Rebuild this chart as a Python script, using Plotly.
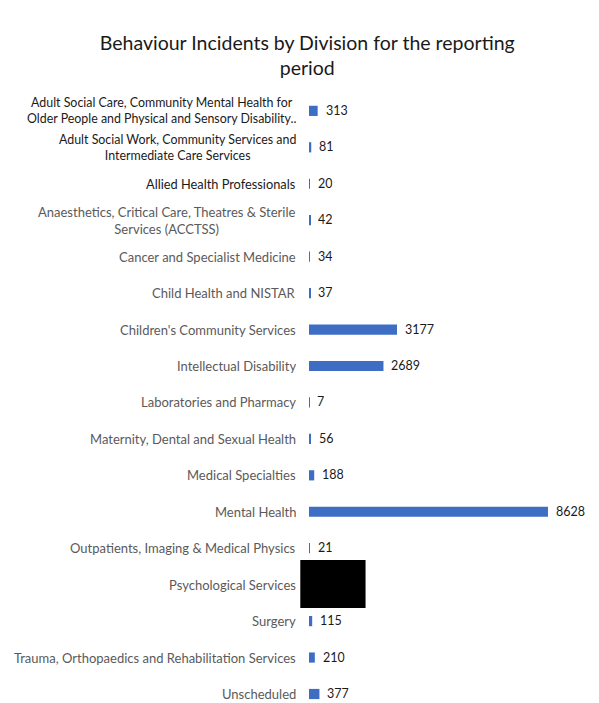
import plotly.graph_objects as go

divisions = [
    "Adult Social Care, Community Mental Health for<br>Older People and Physical and Sensory Disability..",
    "Adult Social Work, Community Services and<br>Intermediate Care Services",
    "Allied Health Professionals",
    "Anaesthetics, Critical Care, Theatres & Sterile<br>Services (ACCTSS)",
    "Cancer and Specialist Medicine",
    "Child Health and NISTAR",
    "Children's Community Services",
    "Intellectual Disability",
    "Laboratories and Pharmacy",
    "Maternity, Dental and Sexual Health",
    "Medical Specialties",
    "Mental Health",
    "Outpatients, Imaging & Medical Physics",
    "Psychological Services",
    "Surgery",
    "Trauma, Orthopaedics and Rehabilitation Services",
    "Unscheduled",
]
incidents = [313, 81, 20, 42, 34, 37, 3177, 2689, 7, 56, 188, 8628, 21, None, 115, 210, 377]
# the first three division labels are printed darker than the rest
label_colors = ["#1a1a1a"] * 3 + ["#5a5a5a"] * 14
label_sizes = [12.4, 12.4, 12.8] + [13] * 14

BAR_COLOR = "#3e6ec4"
FONT = "Lato, 'Liberation Sans', sans-serif"

idx = list(range(len(divisions)))

fig = go.Figure()
fig.add_trace(go.Bar(
    x=[v if v is not None else 0 for v in incidents],
    y=idx,
    orientation="h",
    width=0.28,
    marker=dict(color=BAR_COLOR, line=dict(width=0)),
    hoverinfo="skip",
))

annotations = []
for i, (name, val, col, sz) in enumerate(zip(divisions, incidents, label_colors, label_sizes)):
    single = "<br>" not in name
    annotations.append(dict(
        x=0, y=i, xref="x", yref="y", text=name, showarrow=False,
        xanchor="right", yanchor="middle", align="center", xshift=-12,
        borderpad=0, height=16 if single else None,
        font=dict(family=FONT, size=sz, color=col),
    ))
    if val is not None:
        annotations.append(dict(
            x=val, y=i, xref="x", yref="y", text=str(val), showarrow=False,
            xanchor="left", yanchor="middle", xshift=7, yshift=1,
            borderpad=0, height=16,
            font=dict(family=FONT, size=12.5, color="#1a1a1a"),
        ))

# black redaction block over the Psychological Services row
shapes = [dict(
    type="rect", xref="paper", yref="paper", layer="above",
    x0=-0.03, x1=0.195, y0=0.1557, y1=0.2344,
    fillcolor="black", line=dict(width=0),
)]

fig.update_layout(
    width=599, height=703,
    margin=dict(l=309, r=0, t=93, b=0),
    paper_bgcolor="white", plot_bgcolor="white",
    showlegend=False,
    title=dict(
        text="Behaviour Incidents by Division for the reporting<br>period",
        x=0.513, xanchor="center", xref="container",
        y=1 - 50 / 703, yanchor="middle", yref="container",
        font=dict(family=FONT, size=19.5, color="#1a1a1a"),
    ),
    xaxis=dict(range=[0, 10470], visible=False, fixedrange=True),
    yaxis=dict(range=[16.247, -0.49], visible=False, fixedrange=True),
    annotations=annotations,
    shapes=shapes,
)

fig.write_html("out.html")
